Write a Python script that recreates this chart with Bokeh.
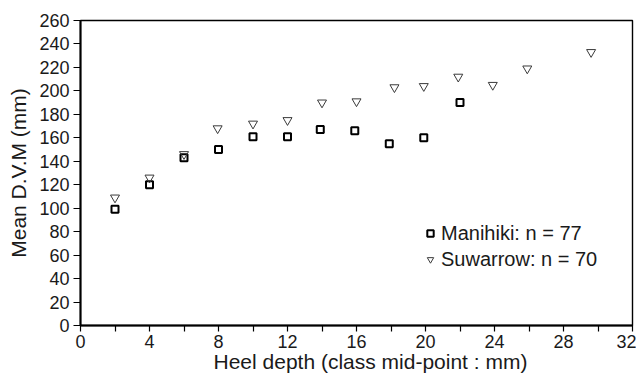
from bokeh.plotting import figure
from bokeh.models import Range1d, FixedTicker, Legend, LegendItem, Title
from bokeh.embed import file_html
from bokeh.resources import INLINE

x_man = [2.0, 4.0, 6.0, 8.0, 10.0, 12.0, 13.9, 15.9, 17.9, 19.9, 22.0]
y_man = [99, 120, 143, 150, 161, 161, 167, 166, 155, 160, 190]
x_suw = [2.0, 4.0, 6.0, 7.95, 10.0, 12.0, 14.0, 16.0, 18.2, 19.9, 21.9, 23.9, 25.9, 29.6]
y_suw = [109, 126, 146, 168, 172, 175, 190, 191, 203, 204, 212, 205, 219, 233]
x_major = [0, 4, 8, 12, 16, 20, 24, 28, 32]
x_minor = [2, 6, 10, 14, 18, 22, 26, 30]
y_ticks = [0, 20, 40, 60, 80, 100, 120, 140, 160, 180, 200, 220, 240, 260]
labels = ["Manihiki: n = 77", "Suwarrow: n = 70"]
x_title = "Heel depth (class mid-point : mm)"
y_title = "Mean D.V.M (mm)"

FONT = "Liberation Sans"
INK = "#1a1a1a"

p = figure(frame_width=552, frame_height=305, output_backend="svg", toolbar_location=None,
           x_range=Range1d(0, 32), y_range=Range1d(0, 260),
           min_border_left=80, min_border_top=20, min_border_right=4, min_border_bottom=49)
p.background_fill_color = "white"
p.border_fill_color = "white"
p.grid.visible = False
p.outline_line_color = "black"
p.outline_line_width = 1.4

r1 = p.scatter(x_man, y_man, marker="square", size=7, fill_color=None,
               line_color="black", line_width=2.0)
r2 = p.scatter(x_suw, y_suw, marker="inverted_triangle", size=9, fill_color=None,
               line_color="#3a3a3a", line_width=1.0)

for ax in (p.xaxis[0], p.yaxis[0]):
    ax.axis_line_color = "black"
    ax.axis_line_width = 2
    ax.major_tick_line_color = "black"
    ax.major_tick_line_width = 1.2
    ax.minor_tick_line_color = "black"
    ax.minor_tick_line_width = 1.2
    ax.major_tick_in = 0
    ax.major_label_text_font = FONT
    ax.major_label_text_font_size = "18px"
    ax.major_label_text_color = INK
    ax.axis_label_text_font = FONT
    ax.axis_label_text_font_style = "normal"
    ax.axis_label_text_color = INK

p.xaxis.ticker = FixedTicker(ticks=x_major, minor_ticks=x_minor)
p.xaxis.major_tick_out = 6
p.xaxis.minor_tick_out = 6
p.xaxis.minor_tick_in = 0
p.xaxis.major_label_standoff = 3

p.yaxis.ticker = FixedTicker(ticks=y_ticks)
p.yaxis.major_tick_out = 7
p.yaxis.minor_tick_line_color = None
p.yaxis.major_label_standoff = 4
p.yaxis.axis_label = y_title
p.yaxis.axis_label_text_font_size = "21px"
p.yaxis.axis_label_standoff = 6

xt = Title(text=x_title, align="left", offset=133, standoff=-5,
           text_font=FONT, text_font_size="21px", text_font_style="normal",
           text_color=INK)
p.add_layout(xt, "below")

legend = Legend(items=[LegendItem(label=labels[0], renderers=[r1]),
                       LegendItem(label=labels[1], renderers=[r2])],
                location=(342, 53), orientation="vertical")
legend.background_fill_alpha = 0
legend.border_line_color = None
legend.padding = 0
legend.margin = 0
legend.spacing = 0
legend.glyph_width = 16
legend.glyph_height = 26
legend.label_standoff = 3
legend.label_text_font = FONT
legend.label_text_font_size = "20px"
legend.label_text_color = INK
legend.label_text_baseline = "middle"
p.add_layout(legend, "center")

open("out.html", "w").write(file_html(p, INLINE))
